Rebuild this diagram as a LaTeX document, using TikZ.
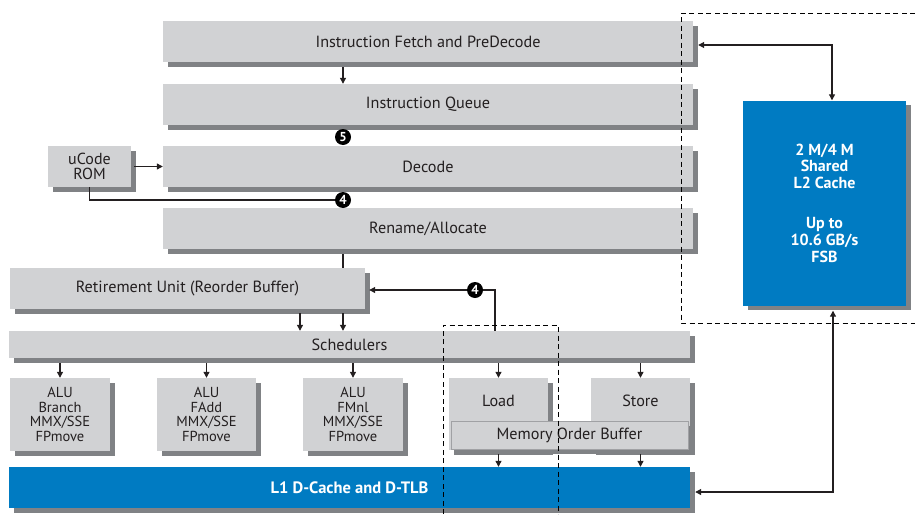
\documentclass[tikz,border=0pt]{standalone}
\usepackage{fontspec}
\setmainfont{PT Sans}
\usetikzlibrary{shadows,calc,arrows.meta}
\definecolor{boxgray}{HTML}{D1D2D4}
\definecolor{shadegray}{HTML}{808285}
\definecolor{intelblue}{HTML}{007BC2}
\definecolor{ink}{HTML}{231F20}
\begin{document}
\begin{tikzpicture}[x=1pt,y=-1pt,
  gbox/.style={draw=none, fill=boxgray, inner sep=0pt, text=ink, align=center,
    font=\fontsize{16.2}{17}\selectfont,
    drop shadow={shadow xshift=4.5pt, shadow yshift=-4.5pt, opacity=1, fill=shadegray}},
  bbox/.style={gbox, fill=intelblue, text=white, font=\bfseries\fontsize{16}{16.8}\selectfont},
  alubox/.style={gbox, minimum width=100pt, minimum height=73pt, font=\fontsize{14.5}{14.4}\selectfont},
  badge/.style={circle, fill=black, text=white, inner sep=0pt, minimum size=16pt,
    font=\bfseries\fontsize{13}{13}\selectfont},
  conn/.style={draw=ink, line width=1.1pt},
  arr/.style={conn, -{Triangle[length=6pt,width=6pt]}},
  darr/.style={conn, {Triangle[length=6pt,width=6pt]}-{Triangle[length=6pt,width=6pt]}},
  dashline/.style={draw=black, line width=0.9pt, dash pattern=on 5pt off 3.5pt}
]
\useasboundingbox (0,0) rectangle (915,514);

% main pipeline boxes
\node[gbox, minimum width=530pt, minimum height=41pt] (fetch)  at (428,41.5)  {Instruction Fetch and PreDecode};
\node[gbox, minimum width=530pt, minimum height=41pt] (queue)  at (428,104.5) {Instruction Queue};
\node[gbox, minimum width=530pt, minimum height=41pt] (decode) at (428,166.5) {Decode};
\node[gbox, minimum width=530pt, minimum height=41pt] (rename) at (428,228.5) {Rename/Allocate};
\node[gbox, minimum width=83pt, minimum height=41pt, font=\fontsize{16}{15.5}\selectfont] (ucode) at (89.5,166.5) {uCode\\ROM};
\node[gbox, minimum width=355pt, minimum height=41pt] (retire) at (187.5,288.5) {Retirement Unit (Reorder Buffer)};
\node[gbox, minimum width=681pt, minimum height=27pt] (sched) at (349.5,344.5) {Schedulers};

% execution units
\node[alubox] (alu1) at (60,414.5)  {ALU\\Branch\\MMX/SSE\\FPmove};
\node[alubox, minimum width=99pt] (alu2) at (206.5,414.5) {ALU\\FAdd\\MMX/SSE\\FPmove};
\node[alubox] (alu3) at (353,414.5) {ALU\\FMnl\\MMX/SSE\\FPmove};
\node[gbox, minimum width=99pt, minimum height=72pt] (load)  at (498.5,414) {\raisebox{13pt}[\height][\depth]{Load}};
\node[gbox, minimum width=99pt, minimum height=72pt] (store) at (640.5,414) {\raisebox{13pt}[\height][\depth]{Store}};
\node[gbox, draw=shadegray!75, line width=0.6pt, minimum width=237pt, minimum height=28pt] (mob) at (569.5,435) {Memory Order Buffer};

% caches
\node[bbox, minimum width=681pt, minimum height=41pt, font=\bfseries\fontsize{16.5}{17}\selectfont] (l1) at (349.5,487.5) {L1 D-Cache and D-TLB};
\node[bbox, minimum width=163pt, minimum height=205pt] (l2) at (824.5,203) {2 M/4 M\\Shared\\L2 Cache\\[23pt]Up to\\10.6 GB/s\\FSB};

% badges
\node[badge] (b5)  at (343,137) {5};
\node[badge] (b4a) at (343,200) {4};
\node[badge] (b4b) at (475,290) {4};

% helper coordinates
\coordinate (xr1) at (300,0);
\coordinate (c1) at (495,290);
\coordinate (t1) at (832,45);
\coordinate (t2) at (833,492);

% connectors
\draw[arr] ($(fetch.south -| b5)+(0,5)$) -- (queue.north -| b5);
\draw[arr] ($(ucode.east)+(3,0)$) -- (decode.west);
\draw[conn] (ucode.south) |- (b4a);
\draw[conn] ($(rename.south -| b4a)+(0,5)$) -- (retire.north -| b4a);
\draw[arr] (b4b) -- ($(retire.east |- b4b)+(4,0)$);
\draw[conn] (b4b) -- (c1) -- (c1 |- sched.north);
\draw[arr] ($(retire.south -| xr1)+(0,4)$) -- (sched.north -| xr1);
\draw[arr] ($(retire.south -| b4a)+(0,4)$) -- (sched.north -| b4a);
\foreach \u in {alu1,alu2,alu3,load,store}
  \draw[arr] ($(sched.south -| \u.north)+(0,5)$) -- (\u.north);
\foreach \u in {load,store}
  \draw[arr] ($(mob.south -| \u.north)+(0,5)$) -- (l1.north -| \u.north);
\draw[darr] ($(fetch.east |- t1)+(5,0)$) -- (t1) -- (t1 |- l2.north);
\draw[darr] ($(l1.east |- t2)+(5,0)$) -- (t2) -- ($(t2 |- l2.south)+(0,5)$);

% dashed regions
\draw[dashline] (915,13) -- (681,13) -- (681,323) -- (915,323);
\draw[dashline] (443,514) -- (443,325) -- (558,325) -- (558,514);
\end{tikzpicture}
\end{document}
